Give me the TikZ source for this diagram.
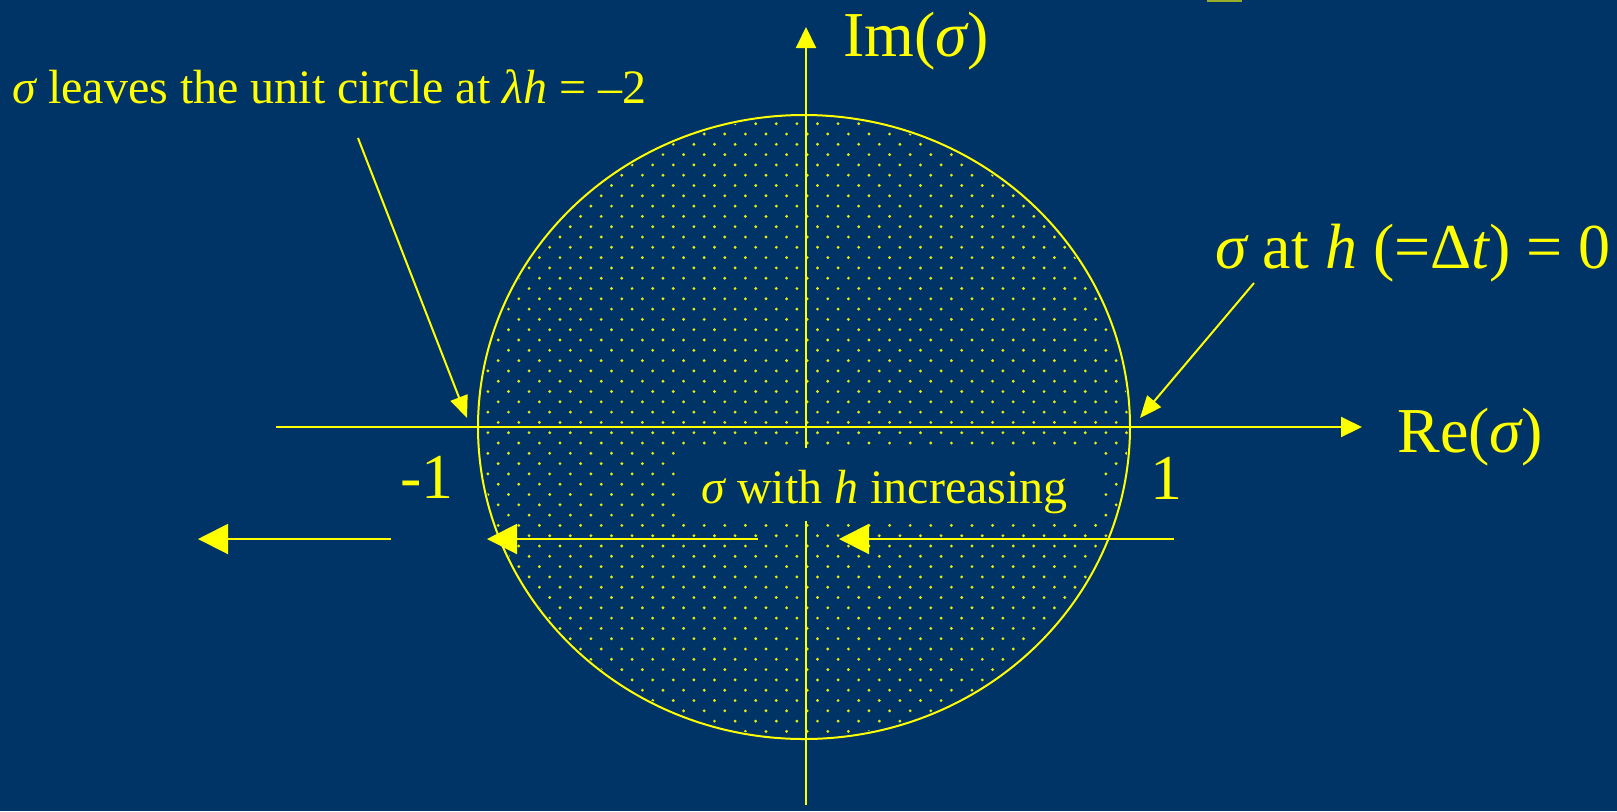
\documentclass[tikz,border=0pt]{standalone}
\usepackage{fontspec}
\setmainfont{Liberation Serif}
\usetikzlibrary{arrows.meta}
\definecolor{bg}{HTML}{003366}
\definecolor{fg}{HTML}{FFFF00}
\begin{document}
\begin{tikzpicture}[x=0.5pt,y=-0.5pt,
  line/.style={draw=fg, line width=1pt},
  axis/.style={line, -{Triangle[length=10.5pt,width=10pt]}},
  bigarrow/.style={line, -{Triangle[length=15pt,width=15pt]}},
  pointer/.style={line, -{Triangle[length=11pt,width=9pt]}},
  big/.style={text=fg, font=\fontsize{32}{38}\selectfont, inner sep=0pt, anchor=base west},
  small/.style={text=fg, font=\fontsize{24}{29}\selectfont, inner sep=0pt, anchor=base west},
  dot/.style={fill=fg!90!bg},
]
\fill[bg] (0,0) rectangle (1617,811);
\useasboundingbox (0,0) rectangle (1617,811);
\fill[fg!60!bg] (1207,0) rectangle (1242,2);

\coordinate (O) at (804,427);
% dotted interior
\begin{scope}
  \clip (O) ellipse [x radius=162pt, y radius=155pt];
  \foreach \a in {-9,...,23} {
    \foreach \b in {-16,...,14} {
      \fill[dot] (663+20.6*\a, 443+20.6*\b) circle [radius=0.8pt];
    }
  }
  \foreach \a in {-10,...,22} {
    \foreach \b in {-17,...,14} {
      \fill[dot] (673.3+20.6*\a, 453.3+20.6*\b) circle [radius=0.8pt];
    }
  }
\end{scope}
\draw[line] (O) ellipse [x radius=163pt, y radius=156pt];

% axes
\coordinate (reS) at (276,427);
\coordinate (reE) at (1362,427);
\coordinate (imS) at (806,805);
\coordinate (imE) at (806,27);
\draw[axis] (reS) -- (reE);
\draw[axis] (imS) -- (imE);

% caption box
\fill[bg] (678,448) rectangle (1100,521);
\node[small] (cap) at (701,503) {{\itshape σ} with {\itshape h} increasing};

% labels
\node[big] (im) at (843,56) {Im({\itshape σ})};
\node[big] (re) at (1397,452) {Re({\itshape σ})};
\node[big] (zero) at (1215,268) {{\itshape σ} at {\itshape h} (=Δ{\itshape t}) = 0};
\node[small] (leave) at (12,103) {{\itshape σ} leaves the unit circle at {\itshape λh} = –2};
\node[big] (m1) at (400,498) {-1};
\node[big] (p1) at (1150,499) {1};

% pointers
\coordinate (zs) at (1254,283);
\coordinate (ze) at (1140,418);
\coordinate (ls) at (358,138);
\coordinate (le) at (467,418);
\draw[pointer] (zs) -- (ze);
\draw[pointer] (ls) -- (le);

% horizontal arrows
\coordinate (a1s) at (1174,539);
\coordinate (a1e) at (839,539);
\coordinate (a2s) at (758,539);
\coordinate (a2e) at (487,539);
\coordinate (a3s) at (391,539);
\coordinate (a3e) at (198,539);
\draw[bigarrow] (a1s) -- (a1e);
\draw[bigarrow] (a2s) -- (a2e);
\draw[bigarrow] (a3s) -- (a3e);
\end{tikzpicture}
\end{document}
